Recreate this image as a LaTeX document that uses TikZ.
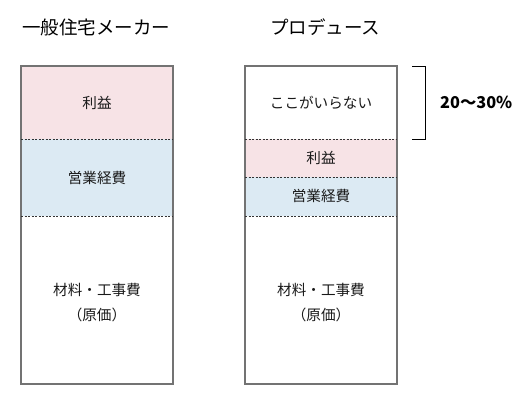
\documentclass[tikz,border=0pt]{standalone}
\usepackage{fontspec}
\setmainfont{Noto Sans CJK JP}
\definecolor{pinkc}{HTML}{F7E3E6}
\definecolor{bluec}{HTML}{DCEAF3}
\begin{document}
\begin{tikzpicture}[x=1pt,y=-1pt,
  boxline/.style={draw=black!55,line width=1.2pt},
  divline/.style={draw=black!80,line width=1pt,dash pattern=on 2pt off 1.5pt},
  pinkfill/.style={fill=pinkc},
  bluefill/.style={fill=bluec},
  lbl/.style={font=\fontsize{14.6}{25}\selectfont,align=center,text=black!90},
  ttl/.style={font=\fontsize{18.5}{22}\selectfont,text=black}]
\useasboundingbox (0,0) rectangle (528,407);
% left column
\fill[pinkfill] (21,66) rectangle (173,139);
\fill[bluefill] (21,139) rectangle (173,216);
\draw[boxline] (21,66) rectangle (173,384);
\draw[divline] (21,139) -- (173,139);
\draw[divline] (21,216) -- (173,216);
% right column
\fill[pinkfill] (245,139) rectangle (397,177);
\fill[bluefill] (245,177) rectangle (397,216);
\draw[boxline] (245,66) rectangle (397,384);
\draw[divline] (245,139) -- (397,139);
\draw[divline] (245,177) -- (397,177);
\draw[divline] (245,216) -- (397,216);
% titles
\node[ttl,anchor=west,inner sep=0pt] (t1) at (22,27) {一般住宅メーカー};
\node[ttl,anchor=west,inner sep=0pt] (t2) at (270,27) {プロデュース};
% labels
\node[lbl] (a1) at (97,103) {利益};
\node[lbl] (a2) at (97,178) {営業経費};
\node[lbl] (a3) at (97,303) {材料・工事費\\（原価）};
\node[lbl] (b0) at (321,103) {ここがいらない};
\node[lbl] (b1) at (321,158) {利益};
\node[lbl] (b2) at (321,196) {営業経費};
\node[lbl] (b3) at (321,303) {材料・工事費\\（原価）};
% bracket
\coordinate (k1) at (412,66);
\coordinate (k2) at (425,66);
\coordinate (k3) at (425,139);
\coordinate (k4) at (412,139);
\draw[black,line width=0.9pt] (k1) -- (k2) -- (k3) -- (k4);
\node[font=\fontsize{16.3}{19}\selectfont\bfseries,anchor=west,inner sep=0pt] (pct) at (440,102) {20〜30\%};
\end{tikzpicture}
\end{document}
